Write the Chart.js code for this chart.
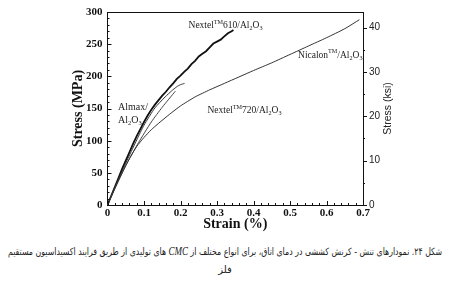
<!DOCTYPE html>
<html>
<head>
<meta charset="utf-8">
<script src="https://cdn.jsdelivr.net/npm/chart.js@4/dist/chart.umd.min.js"></script>
<style>
    html, body { margin: 0; padding: 0; background: #fff; width: 450px; height: 281px; overflow: hidden; }
    #wrap { position: absolute; left: 0; top: 0; width: 450px; height: 236px; }
    #cap { position: absolute; left: 8px; top: 242px; width: 434px; direction: rtl;
           font-family: "DejaVu Sans"; font-size: 10px; color: #222; line-height: 18px; }
    #cap .l1 { display: inline-block; white-space: nowrap; transform-origin: right center; }
    #cap .l2 { text-align: center; }
    #cap i { font-family: "Liberation Serif"; font-size: 1.15em; }
</style>
</head>
<body>
<div id="wrap"><canvas id="stressChart" width="450" height="236"></canvas></div>
<div id="cap">
    <div class="l1">شکل ۲۴. نمودارهای تنش - کرنش کششی در دمای اتاق، برای انواع مختلف از <i>CMC</i> های تولیدی از طریق فرایند اکسیداسیون مستقیم</div>
    <div class="l2">فلز</div>
</div>
<script>
// strain (%) / stress (MPa)
const strain610 = [0, 0.01, 0.02, 0.03, 0.04, 0.05, 0.06, 0.07, 0.08, 0.09, 0.10, 0.11, 0.12, 0.13, 0.14, 0.15, 0.16, 0.17,
    0.18, 0.19, 0.20, 0.21, 0.22, 0.23, 0.24, 0.25, 0.26, 0.27, 0.28, 0.29, 0.30, 0.31, 0.32, 0.33, 0.34, 0.345];
const stress610 = [0, 14, 28, 42, 56, 69, 82, 95, 107, 118, 129, 139, 148, 156, 163, 170, 176, 183,
    189, 196, 201, 207, 212, 219, 224, 231, 235, 239, 245, 251, 254, 257, 262, 267, 270, 272];

const strainAlmax = [0, 0.02, 0.05, 0.08, 0.10, 0.13, 0.158, 0.175, 0.19, 0.20, 0.211];
const stressAlmax = [0, 27, 65, 101, 124, 151, 168, 177, 184, 187, 189];

const strain720 = [0, 0.02, 0.05, 0.085, 0.12, 0.15, 0.186];
const stress720 = [0, 25, 61, 97, 129, 152, 177];

const strainNicalon = [0, 0.02, 0.04, 0.06, 0.08, 0.10, 0.12, 0.14, 0.17, 0.20, 0.24, 0.28, 0.32, 0.36, 0.40, 0.45, 0.50, 0.55, 0.60, 0.65, 0.69];
const stressNicalon = [0, 26, 50, 72, 91, 105, 117, 127, 141, 154, 168, 179, 189, 199, 209, 221, 234, 247, 260, 274, 288];

const strainTicks = [0, 0.1, 0.2, 0.3, 0.4, 0.5, 0.6, 0.7];
const mpaTicks = [0, 50, 100, 150, 200, 250, 300];
const ksiTicks = [0, 10, 20, 30, 40];
const KSI = 6.894757;

// curve labels: parts [text, 'sup'|'sub'|''] and anchor in data units
const labelParts = [
    [['Nextel', ''], ['TM', 'sup'], ['610/Al', ''], ['2', 'sub'], ['O', ''], ['3', 'sub']],
    [['Nicalon', ''], ['TM', 'sup'], ['/Al', ''], ['2', 'sub'], ['O', ''], ['3', 'sub']],
    [['Nextel', ''], ['TM', 'sup'], ['720/Al', ''], ['2', 'sub'], ['O', ''], ['3', 'sub']],
    [['Almax/', '']],
    [['Al', ''], ['2', 'sub'], ['O', ''], ['3', 'sub']]
];
const labelStrain = [0.222, 0.522, 0.274, 0.029, 0.029];
const labelStress = [279, 233, 147, 152, 132];

const toPoints = (xs, ys) => xs.map((x, i) => ({ x, y: ys[i] }));
const serif = 'Liberation Serif';

// squeeze the first caption line to the caption width
const capLine = document.querySelector('#cap .l1');
capLine.style.transform = `scaleX(${434 / capLine.offsetWidth})`;

function drawRich(ctx, x, y, parts, size) {
    let cx = x;
    parts.forEach(([txt, kind]) => {
        const s = kind ? size * 0.65 : size;
        const dy = kind === 'sup' ? -size * 0.35 : kind === 'sub' ? size * 0.3 : 0;
        ctx.font = `${s}px "${serif}"`;
        ctx.fillText(txt, cx, y + dy);
        cx += ctx.measureText(txt).width;
    });
}

const decorations = {
    id: 'decorations',
    afterDraw(chart) {
        const { ctx, chartArea: a, scales } = chart;
        ctx.save();
        ctx.strokeStyle = '#111';
        ctx.lineWidth = 1;

        // top frame line
        ctx.beginPath();
        ctx.moveTo(a.left, a.top + 0.5);
        ctx.lineTo(a.right, a.top + 0.5);
        ctx.stroke();

        // inward ticks, left axis
        ctx.beginPath();
        for (let v = 0; v <= 300; v += 10) {
            const py = Math.round(scales.y.getPixelForValue(v)) + 0.5;
            ctx.moveTo(a.left, py);
            ctx.lineTo(a.left + (v % 50 === 0 ? 4 : 2), py);
        }
        // bottom axis
        for (let i = 0; i <= 35; i++) {
            const px = Math.round(scales.x.getPixelForValue(i * 0.02)) + 0.5;
            ctx.moveTo(px, a.bottom);
            ctx.lineTo(px, a.bottom - (i % 5 === 0 ? 4 : 2));
        }
        // right axis, outward
        for (let v = 0; v <= 40; v += 5) {
            const py = Math.round(scales.y2.getPixelForValue(v)) + 0.5;
            ctx.moveTo(a.right, py);
            ctx.lineTo(a.right + (v % 10 === 0 ? 4 : 2), py);
        }
        ctx.stroke();

        // right axis title, reading upward
        ctx.fillStyle = '#222';
        ctx.font = '10.5px "Liberation Sans"';
        ctx.textAlign = 'center';
        ctx.textBaseline = 'middle';
        ctx.translate(388, (a.top + a.bottom) / 2);
        ctx.rotate(-Math.PI / 2);
        ctx.fillText('Stress (ksi)', 0, 0);
        ctx.restore();

        // curve labels
        ctx.save();
        ctx.fillStyle = '#222';
        ctx.textBaseline = 'middle';
        labelParts.forEach((parts, i) => {
            const px = scales.x.getPixelForValue(labelStrain[i]);
            const py = scales.y.getPixelForValue(labelStress[i]);
            drawRich(ctx, px, py, parts, i >= 3 ? 10 : 9.5);
        });
        ctx.restore();
    }
};

const lineStyle = (color, width, tension) => ({
    borderColor: color, borderWidth: width, pointRadius: 0, tension, fill: false
});

new Chart(document.getElementById('stressChart'), {
    type: 'line',
    data: {
        datasets: [
            { label: 'Nicalon/Al2O3', data: toPoints(strainNicalon, stressNicalon), ...lineStyle('#333', 1, 0.2) },
            { label: 'Nextel 720/Al2O3', data: toPoints(strain720, stress720), ...lineStyle('#444', 1, 0.2) },
            { label: 'Almax/Al2O3', data: toPoints(strainAlmax, stressAlmax), ...lineStyle('#333', 1, 0.2) },
            { label: 'Nextel 610/Al2O3', data: toPoints(strain610, stress610), ...lineStyle('#111', 1.8, 0) }
        ]
    },
    options: {
        responsive: false,
        animation: false,
        devicePixelRatio: 1,
        layout: { padding: { top: 12, left: 70, right: 47, bottom: 0 } },
        plugins: { legend: { display: false }, tooltip: { enabled: false } },
        scales: {
            x: {
                type: 'linear', min: 0, max: 0.7,
                afterBuildTicks: s => { s.ticks = strainTicks.map(value => ({ value })); },
                ticks: {
                    callback: v => v === 0 ? '0' : v.toFixed(1),
                    font: { family: serif, weight: 'bold', size: 11 }, color: '#111', padding: 2, maxRotation: 0
                },
                grid: { drawOnChartArea: false, drawTicks: false },
                border: { color: '#111', width: 1 },
                title: { display: true, text: 'Strain (%)', color: '#111',
                         font: { family: serif, weight: 'bold', size: 14 }, padding: { top: 0, bottom: 3 } },
                afterFit: s => { s.height = 31; }
            },
            y: {
                position: 'left', min: 0, max: 300,
                afterBuildTicks: s => { s.ticks = mpaTicks.map(value => ({ value })); },
                ticks: { font: { family: serif, weight: 'bold', size: 11 }, color: '#111', padding: 5 },
                grid: { drawOnChartArea: false, drawTicks: false },
                border: { color: '#111', width: 1 },
                title: { display: true, text: 'Stress (MPa)', color: '#111',
                         font: { family: serif, weight: 'bold', size: 14 }, padding: 0 },
                afterFit: s => { s.width = 37.5; }
            },
            y2: {
                position: 'right', min: 0, max: 300 / KSI,
                afterBuildTicks: s => { s.ticks = ksiTicks.map(value => ({ value })); },
                ticks: { font: { family: 'Liberation Sans', size: 10 }, color: '#222', padding: 6 },
                grid: { drawOnChartArea: false, drawTicks: false },
                border: { color: '#111', width: 1 },
                afterFit: s => { s.width = 40; }
            }
        }
    },
    plugins: [decorations]
});
</script>
</body>
</html>
